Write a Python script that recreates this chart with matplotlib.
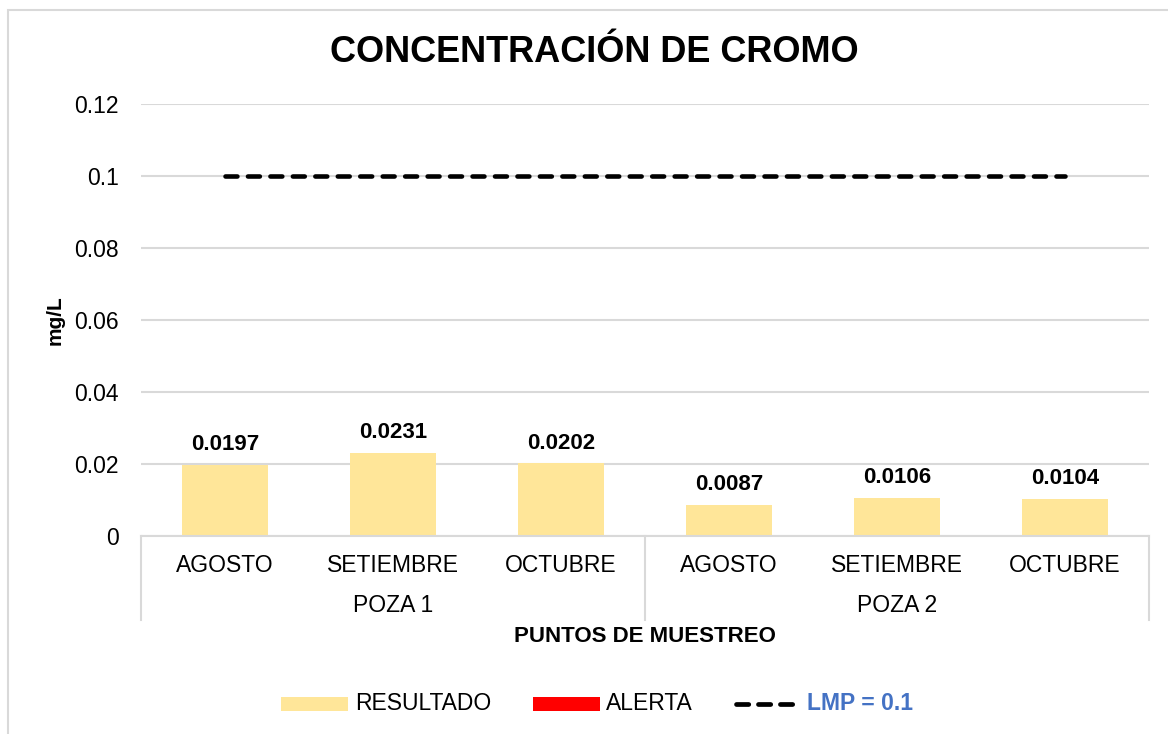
import matplotlib
matplotlib.use("Agg")
import matplotlib.pyplot as plt
from matplotlib.patches import Rectangle
from matplotlib.lines import Line2D
import matplotlib.transforms as mtransforms

# ---- data ----
months = ["AGOSTO", "SETIEMBRE", "OCTUBRE", "AGOSTO", "SETIEMBRE", "OCTUBRE"]
groups = ["POZA 1", "POZA 2"]
resultado = [0.0197, 0.0231, 0.0202, 0.0087, 0.0106, 0.0104]
lmp = [0.1, 0.1, 0.1, 0.1, 0.1, 0.1]
data_labels = ["0.0197", "0.0231", "0.0202", "0.0087", "0.0106", "0.0104"]
yticks = [0, 0.02, 0.04, 0.06, 0.08, 0.1, 0.12]
ytick_labels = ["0", "0.02", "0.04", "0.06", "0.08", "0.1", "0.12"]
legend_labels = ["RESULTADO", "ALERTA", "LMP = 0.1"]

plt.rcParams['font.family'] = ['Liberation Sans', 'DejaVu Sans']

W, H = 1168, 734
fig = plt.figure(figsize=(W / 100, H / 100), dpi=100)
FS = 16.5

def px(x0, y0, x1, y1):
    return [x0 / W, 1 - y1 / H, (x1 - x0) / W, (y1 - y0) / H]

# outer frame
fig.patches.append(Rectangle((8 / W, -0.05), 1.2, 1 - 10 / H + 0.05, transform=fig.transFigure,
                             fill=False, edgecolor="#D9D9D9", linewidth=1.5))

ax = fig.add_axes(px(141, 104, 1149, 536))
x = list(range(len(months)))
bar_color = "#FFE699"
alert_color = "#FF0000"
ax.bar(x, resultado, width=0.51, color=bar_color, zorder=2)
ax.plot(x, lmp, color="black", linewidth=3.3, linestyle=(0, (2.6, 2.3)),
        dash_capstyle="round", zorder=3)

for xi, v, lab in zip(x, resultado, data_labels):
    ax.annotate(lab, (xi, v), xytext=(0, 7), textcoords="offset points",
                ha="center", va="bottom", fontsize=16, fontweight="bold", color="black")

ax.set_xlim(-0.5, len(months) - 0.5)
ax.set_ylim(0, 0.12)
ax.set_yticks(yticks)
ax.set_yticklabels(ytick_labels, fontsize=FS)
ax.yaxis.grid(True, color="#D9D9D9", linewidth=1.5, zorder=0)
ax.set_axisbelow(True)
ax.tick_params(axis="y", length=0, pad=16, labelcolor="#000000")
for s in ["top", "right", "left"]:
    ax.spines[s].set_visible(False)
ax.spines["bottom"].set_color("#D9D9D9")
ax.spines["bottom"].set_linewidth(1.5)

ax.set_xticks(x)
ax.set_xticklabels(months, fontsize=FS)
ax.tick_params(axis="x", length=0, pad=13)

trans = mtransforms.blended_transform_factory(ax.transData, ax.transAxes)
box_bottom = -(620 - 536) / 432
for xb in [-0.5, 2.5, 5.5]:
    ax.plot([xb, xb], [0, box_bottom], transform=trans, color="#D9D9D9",
            linewidth=1.5, clip_on=False)
group_y = -(606 - 536) / 432
for gi, g in enumerate(groups):
    ax.text(gi * 3 + 1, group_y, g, transform=trans, ha="center", va="center", fontsize=FS)

ax.text(2.5, -(637 - 536) / 432, "PUNTOS DE MUESTREO", transform=trans,
        ha="center", va="center", fontsize=16, fontweight="bold")

fig.text(55 / W, 1 - 320 / H, "mg/L", rotation=90, ha="center", va="center",
         fontsize=15, fontweight="bold")

fig.text(594 / W, 1 - 52 / H, "CONCENTRACIÓN DE CROMO", ha="center", va="center",
         fontsize=26, fontweight="bold")

# ---- legend (manual layout, figure pixel coordinates) ----
ly = 704
def fx(v):
    return v / W
def fy(v):
    return 1 - v / H

fig.patches.append(Rectangle((fx(281), fy(711)), 67 / W, 14 / H, transform=fig.transFigure,
                             facecolor=bar_color, edgecolor="none"))
fig.text(fx(355), fy(ly), legend_labels[0], ha="left", va="center", fontsize=FS)
fig.patches.append(Rectangle((fx(533), fy(711)), 67 / W, 14 / H, transform=fig.transFigure,
                             facecolor=alert_color, edgecolor="none"))
fig.text(fx(606), fy(ly), legend_labels[1], ha="left", va="center", fontsize=FS)
fig.lines.append(Line2D([fx(735.5), fx(792.5)], [fy(ly), fy(ly)], transform=fig.transFigure,
                        color="black", linewidth=3.4, linestyle=(0, (2.6, 2.05)),
                        dash_capstyle="round"))
fig.text(fx(807), fy(ly), legend_labels[2], ha="left", va="center", fontsize=FS,
         fontweight="bold", color="#4472C4")

fig.savefig("out.png", dpi=100)
